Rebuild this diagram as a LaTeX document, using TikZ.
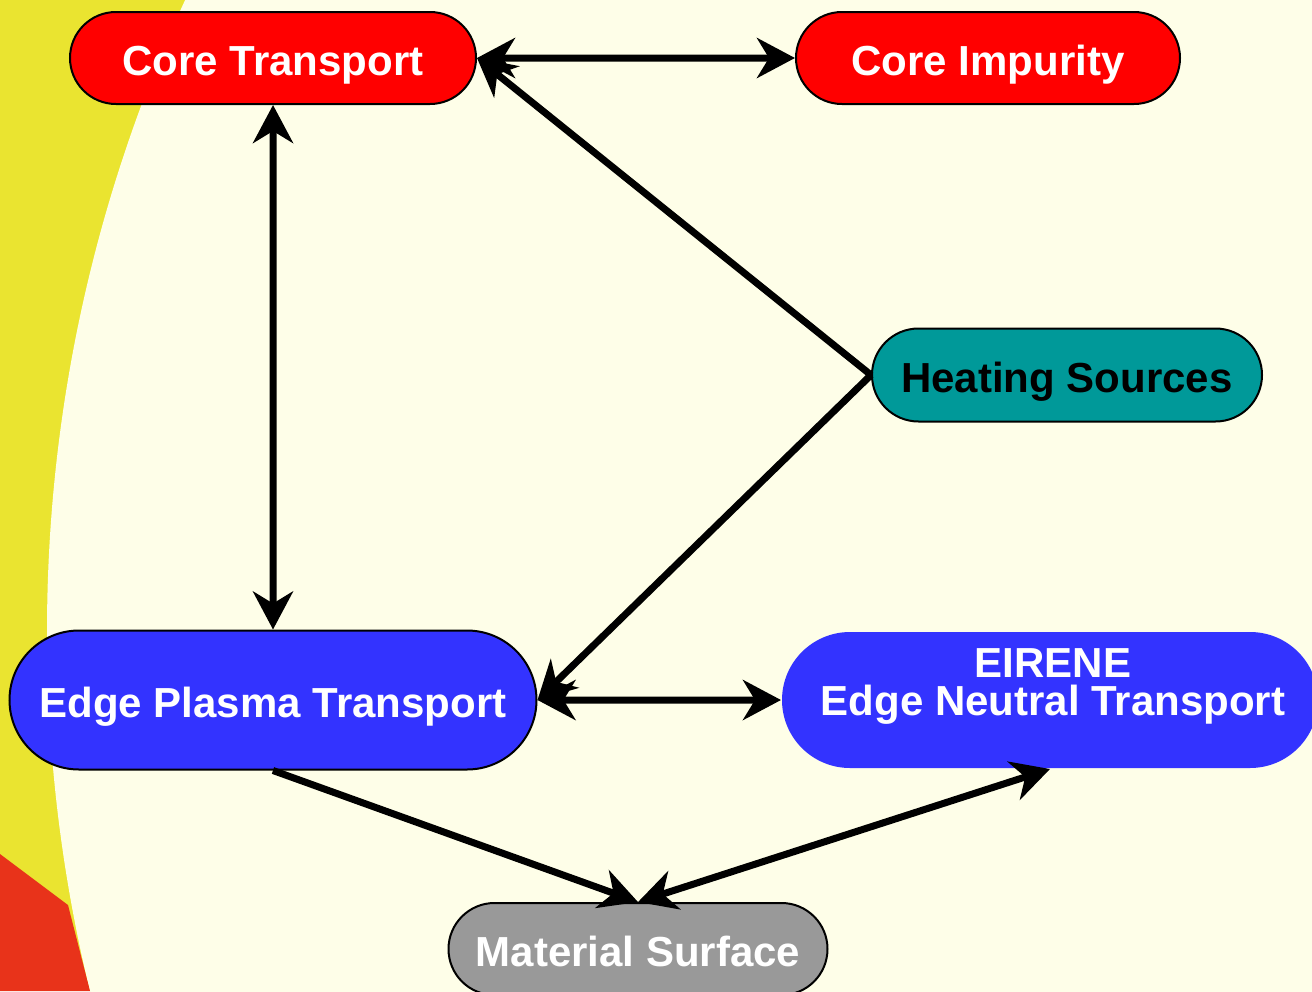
\documentclass[tikz,border=0pt]{standalone}
\usepackage{fontspec}
\setmainfont{Liberation Sans}
\usetikzlibrary{shapes.misc, arrows.meta}
\definecolor{cream}{HTML}{FEFEE8}
\definecolor{sunyellow}{HTML}{EAE430}
\definecolor{flamered}{HTML}{E8331A}
\definecolor{plasmablue}{HTML}{3333FF}
\definecolor{heatteal}{HTML}{009999}
\definecolor{wallgray}{HTML}{999999}
\begin{document}
\begin{tikzpicture}[x=0.5pt, y=-0.5pt,
        every node/.style={font=\fontsize{21}{19}\selectfont\bfseries, align=center},
        module/.style={rounded rectangle, draw=black, line width=1pt, inner sep=0pt, text=white, text height=17pt, text depth=0pt},
        link/.style={>={Stealth[length=19pt,width=20pt,inset=6pt]}, line width=3.5pt}
    ]
    % background: yellow rim, cream disc, red corner
    \useasboundingbox (0,0) rectangle (1312,991);
    \begin{scope}
    \clip (0,0) rectangle (1312,991);
    \fill[sunyellow] (0,0) rectangle (1312,991);
    \fill[cream] (1558,632) circle[radius=1511];
    \fill[flamered] (0,854) -- (68,905) -- (90,991) -- (0,991) -- cycle;
    \end{scope}

    \node[module, fill=red, minimum width=203pt, minimum height=46pt] (CT) at (273,58) {Core Transport};
    \node[module, fill=red, minimum width=192pt, minimum height=46pt] (CI) at (988,58) {Core Impurity};
    \node[module, fill=heatteal, text=black, minimum width=195pt, minimum height=46.5pt] (HS) at (1067,375) {Heating Sources};
    \node[module, fill=plasmablue, minimum width=263.5pt, minimum height=69.5pt] (EPT) at (273,700) {Edge Plasma Transport};
    \node[module, draw=none, fill=plasmablue, minimum width=268pt, minimum height=68pt] (EN) at (1050,700) {};
    \node[text=white] (ENtext) at (1053,686) {EIRENE\\Edge Neutral Transport};
    \node[module, fill=wallgray, minimum width=189.5pt, minimum height=46pt] (MS) at (638,949) {Material Surface};

    \draw[link, <->] (CT) -- (CI);
    \draw[link, <->] (CT) -- (EPT);
    \draw[link, ->] (HS.west) -- (CT.east);
    \draw[link, ->] (HS.west) -- (EPT.east);
    \draw[link, <->] (EPT) -- (EN);
    \draw[link, ->] (EPT.south) -- (MS.north);
    \draw[link, <->] (MS.north) -- (EN.south);
\end{tikzpicture}
\end{document}
